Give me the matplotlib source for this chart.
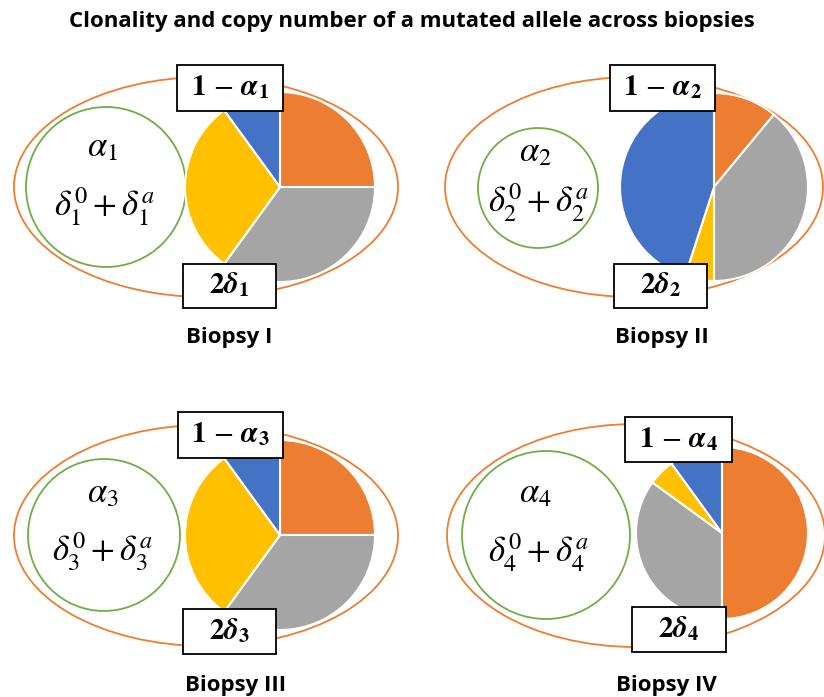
import numpy as np
import matplotlib
matplotlib.use("Agg")
import matplotlib.pyplot as plt
from matplotlib.patches import Ellipse, Circle, Rectangle

W, H = 824, 697

title = "Clonality and copy number of a mutated allele across biopsies"
biopsies = ["Biopsy I", "Biopsy II", "Biopsy III", "Biopsy IV"]
# slice shares, clockwise from 12 o'clock
orange = [25, 11, 25, 50]
gray = [35, 39, 35, 35]
yellow = [30, 5, 30, 5]
blue = [10, 45, 10, 10]
slice_colors = ["#ED7D31", "#A5A5A5", "#FFC000", "#4472C4"]

# layout in pixel coords (y from top)
panels = [
    dict(ell=(206, 187, 192, 110), circ=(106, 187, 80), pie=(280, 187, 95),
         top=(177, 65, 106, 46), bot=(183, 264, 93, 44),
         alpha=(102, 147), delta=(105, 207), cap=(229, 338)),
    dict(ell=(634, 187, 189, 110), circ=(538, 188, 60), pie=(714, 187, 94),
         top=(610, 65, 105, 46), bot=(614, 264, 93, 44),
         alpha=(535, 152), delta=(539, 203), cap=(662, 338)),
    dict(ell=(206, 535.5, 192, 110.5), circ=(104, 535, 76), pie=(280, 535, 95),
         top=(178, 412, 105, 46), bot=(183, 609, 93, 45),
         alpha=(103, 493), delta=(103, 552), cap=(236, 685)),
    dict(ell=(636, 535.5, 189, 111.5), circ=(546, 535, 84), pie=(722, 533, 86),
         top=(625, 417, 107, 45), bot=(632, 607, 94, 45),
         alpha=(535, 493), delta=(539, 553), cap=(666, 685)),
]

plt.rcParams["mathtext.fontset"] = "stix"
plt.rcParams["font.family"] = ["Open Sans", "DejaVu Sans"]

fig = plt.figure(figsize=(W / 100, H / 100), dpi=100)
ax = fig.add_axes([0, 0, 1, 1])

for i, p in enumerate(panels):
    n = i + 1
    ex, ey, ea, eb = p["ell"]
    ax.add_patch(Ellipse((ex, H - ey), 2 * ea, 2 * eb, fill=False,
                         edgecolor="#ED7D31", lw=1.3, zorder=1))
    cx, cy, cr = p["circ"]
    ax.add_patch(Circle((cx, H - cy), cr, fill=False, edgecolor="#70AD47",
                        lw=1.3, zorder=1))

    px, py, pr = p["pie"]
    vals = [orange[i], gray[i], yellow[i], blue[i]]
    ax.pie(vals, colors=slice_colors, startangle=90, counterclock=False,
           center=(px, H - py), radius=pr,
           wedgeprops=dict(edgecolor="white", linewidth=1.5, zorder=2))

    ax.text(p["alpha"][0], H - p["alpha"][1], r"$\alpha_{%d}$" % n,
            fontsize=25, ha="center", va="center")
    ax.text(p["delta"][0], H - p["delta"][1],
            r"$\delta_{%d}^{0}+\delta_{%d}^{a}$" % (n, n),
            fontsize=25, ha="center", va="center")

    for key, lab in [("top", r"$\mathbf{1}\,-\,\boldsymbol{\alpha}_{\mathbf{%d}}$" % n),
                     ("bot", r"$\mathbf{2}\boldsymbol{\delta}_{\mathbf{%d}}$" % n)]:
        bx, by, bw, bh = p[key]
        ax.add_patch(Rectangle((bx, H - by - bh), bw, bh, facecolor="white",
                               edgecolor="black", lw=1.3, zorder=3))
        ax.text(bx + bw / 2, H - by - bh / 2, lab, fontsize=21,
                ha="center", va="center", zorder=4)

    ax.text(p["cap"][0], H - p["cap"][1], biopsies[i], fontsize=16,
            fontweight="bold", ha="center", va="center")

ax.text(W / 2, H - 22, title, fontsize=16, fontweight="bold",
        ha="center", va="center")

ax.set_xlim(0, W)
ax.set_ylim(0, H)
ax.set_aspect("auto")
ax.axis("off")

fig.savefig("out.png", dpi=100)
